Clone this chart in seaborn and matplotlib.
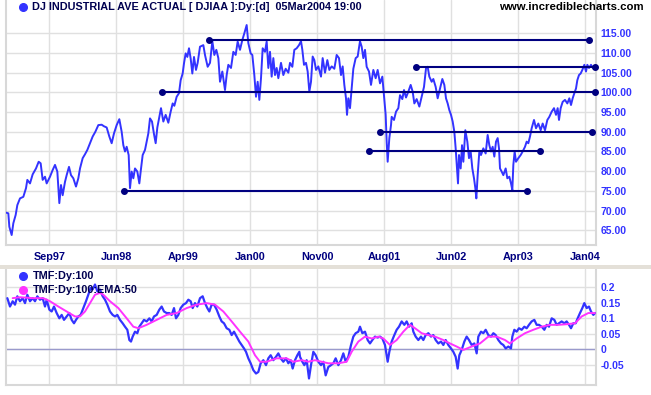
import matplotlib
matplotlib.use("Agg")
import matplotlib.pyplot as plt
from matplotlib.lines import Line2D
from matplotlib.patches import Rectangle
import seaborn as sns
import pandas as pd

# ---------------- data (x = trading session since start of chart) ----------------
price_session = [
    0, 7, 10, 17, 22, 29, 34, 42, 52, 60,
    64, 72, 80, 90, 98, 104, 110, 117, 122, 132,
    140, 147, 154, 160, 165, 170, 177, 182, 189, 195,
    202, 210, 217, 222, 230, 237, 244, 252, 260, 268,
    277, 287, 294, 302, 310, 317, 324, 332, 340, 347,
    352, 357, 362, 368, 372, 377, 382, 387, 394, 400,
    404, 410, 417, 422, 427, 432, 438, 444, 449, 454,
    460, 465, 472, 479, 487, 494, 500, 505, 512, 519,
    524, 530, 534, 539, 544, 549, 554, 559, 564, 570,
    575, 580,
    582, 592, 597, 605, 612, 619, 625, 631, 637, 642,
    649, 657, 662, 667, 675, 682, 689, 695, 702, 709,
    715, 722, 727, 734, 739, 745, 750, 755, 760, 765,
    770, 777, 782, 787, 792, 797, 802, 807, 812, 817,
    825, 832, 839, 847, 852, 859, 865, 872, 879, 885,
    889, 894, 900, 905, 910, 915, 920, 925, 930, 937,
    945, 950, 957, 964, 970, 977, 985, 992, 999, 1005,
    1010, 1015, 1020, 1023, 1027, 1032, 1037, 1042, 1049, 1055,
    1062, 1067, 1072, 1077, 1082, 1089, 1095, 1102, 1109, 1115,
    1122, 1129, 1134, 1139, 1142, 1145, 1150, 1155,
    1157, 1164, 1170, 1177, 1182, 1189, 1194, 1200, 1207, 1214,
    1220, 1225, 1232, 1240, 1247, 1254, 1260, 1265, 1270, 1277,
    1282, 1289, 1295, 1302, 1309, 1315, 1320, 1325, 1330, 1335,
    1340, 1345, 1349, 1353, 1356, 1359, 1364, 1368, 1372, 1378,
    1384, 1389, 1394, 1399, 1404, 1408, 1411, 1415, 1420, 1425,
    1432, 1439, 1445, 1450, 1455, 1460, 1465, 1470, 1475, 1479,
    1482, 1487, 1492, 1499, 1504, 1510, 1515, 1519, 1522, 1526,
    1530, 1537, 1544, 1550, 1557, 1562, 1567, 1572, 1577, 1584,
    1590, 1597, 1604, 1610, 1617, 1624, 1630, 1637, 1644, 1650,
    1655, 1659, 1664, 1670, 1677, 1684, 1690, 1695, 1700, 1705,
    1710, 1714, 1719, 1724, 1729, 1735, 1740, 1744, 1749, 1755,
    1760, 1766,
]
price_value = [
    69.5, 69.3, 65.9, 63.8, 66.8, 68.9, 71.4, 73.1, 73.5, 75.7,
    77.8, 76.9, 79.2, 80.7, 82.4, 82.0, 77.8, 78.6, 76.9, 78.6,
    80.3, 81.6, 79.9, 71.9, 76.5, 73.9, 77.3, 79.0, 81.1, 79.0,
    78.2, 76.1, 78.2, 80.7, 83.3, 84.3, 85.4, 87.1, 88.8, 90.0,
    91.7, 91.8, 91.4, 91.1, 88.8, 87.1, 89.6, 91.7, 93.2, 90.0,
    86.6, 85.0, 86.2, 84.1, 75.7, 79.9, 78.2, 80.7, 79.9, 76.9,
    79.9, 84.1, 85.4, 87.5, 89.6, 93.4, 92.6, 89.4, 87.1, 91.1,
    93.8, 96.0, 92.6, 94.3, 92.3, 95.1, 97.2, 96.6, 98.9, 99.8,
    103.1, 104.8, 107.4, 109.9, 109.0, 111.2, 108.6, 104.8, 109.0, 105.7,
    107.5, 110.5,
    111.6, 112.0, 109.5, 106.5, 107.5, 113.0, 109.5, 110.8, 108.7, 102.7,
    105.3, 100.6, 104.4, 107.0, 106.2, 110.3, 109.5, 112.9, 110.8, 113.3,
    115.0, 117.1, 112.5, 109.9, 109.5, 104.4, 98.9, 102.7, 98.1, 103.6,
    111.2, 110.3, 112.9, 106.2, 110.3, 104.0, 108.7, 104.4, 106.2, 103.6,
    107.5, 104.4, 106.0, 105.0, 107.5, 106.5, 110.8, 111.2, 112.0, 113.0,
    110.8, 107.0, 107.5, 105.3, 100.2, 102.7, 109.1, 108.2, 105.7, 106.6,
    104.0, 108.7, 105.0, 108.2, 105.7, 106.6, 106.0, 109.5, 108.7, 104.4,
    106.6, 101.9, 98.5, 94.3, 98.5, 96.0, 101.0, 106.0, 108.7, 109.1,
    113.0, 111.6, 108.7, 110.8, 106.5, 105.3, 101.9, 105.7, 103.6, 105.7,
    102.3, 104.0, 99.3, 94.3, 87.5, 82.4, 88.4, 91.7,
    93.8, 93.0, 95.1, 96.0, 99.3, 98.3, 100.6, 98.7, 100.2, 101.9,
    100.2, 97.2, 98.3, 96.4, 98.9, 101.4, 106.1, 106.5, 104.0, 102.7,
    103.4, 101.4, 98.5, 100.9, 103.4, 101.9, 98.5, 97.2, 95.5, 94.3,
    92.6, 90.0, 85.8, 80.7, 76.9, 84.1, 80.7, 86.6, 82.4, 90.4,
    87.5, 83.3, 85.0, 80.7, 78.2, 75.7, 73.1, 79.0, 85.0, 84.1,
    85.8, 84.5, 89.2, 86.6, 85.0, 86.2, 83.7, 87.5, 88.4, 85.8,
    80.7, 79.9, 79.0, 80.7, 78.2, 78.6, 76.9, 75.2, 81.6, 85.0,
    82.4, 83.3, 84.1, 85.0, 86.2, 87.5, 87.1, 88.8, 90.9, 93.0,
    90.9, 92.1, 90.4, 92.1, 90.4, 93.0, 93.8, 95.1, 96.0, 94.3,
    96.0, 93.0, 96.0, 97.6, 98.1, 97.2, 98.5, 96.8, 98.5, 99.8,
    101.0, 103.1, 104.4, 104.8, 105.7, 107.0, 105.3, 107.0, 106.2, 107.0,
    106.3, 106.5,
]

tmf_session = [
    4, 12, 20, 27, 34, 42, 50, 57, 64, 72,
    80, 87, 94, 102, 110, 117, 122, 130, 137, 144,
    152, 160, 167, 174, 182, 190, 197, 204, 210, 217,
    224, 232, 240, 247, 254, 260, 267, 274, 282, 290,
    297, 304, 312, 320, 327, 334, 342, 350, 357, 364,
    370, 375, 380, 387, 394, 400, 407, 414, 422, 430,
    437, 444, 452, 460, 467, 474, 482, 490, 497, 504,
    510, 517, 524, 532, 540, 547, 554, 560, 567, 574,
    582, 590, 597, 604, 610, 617, 624, 632, 640, 647,
    654, 662, 670, 677, 684, 692, 700, 707, 714, 720,
    727, 734, 742, 750, 757, 764, 772, 780, 787, 794,
    802, 810, 817, 824, 832, 840, 847, 854, 860, 867,
    874, 880,
    882, 889, 895, 902, 909, 915, 922, 929, 937, 945,
    952, 959, 967, 975, 982, 989, 997, 1005, 1012, 1019,
    1027, 1035, 1042, 1049, 1057, 1062, 1069, 1077, 1085, 1092,
    1099, 1107, 1115, 1122, 1129, 1137, 1142, 1145, 1150, 1157,
    1165, 1172, 1179, 1187, 1195, 1202, 1209, 1217, 1222, 1229,
    1237, 1245, 1252, 1259, 1267, 1275, 1282, 1289, 1297, 1305,
    1312, 1319, 1327, 1335, 1342, 1349, 1355, 1360, 1367, 1375,
    1382, 1389, 1397, 1405, 1412, 1417, 1425, 1432, 1439, 1447,
    1455, 1462, 1469, 1477, 1485, 1492, 1499, 1507, 1515, 1519,
    1525, 1532, 1539, 1547, 1555, 1562, 1569, 1577, 1585, 1592,
    1599, 1607, 1615, 1622, 1629, 1637, 1645, 1652, 1659, 1667,
    1675, 1682, 1689, 1695, 1702, 1709, 1715, 1722, 1729, 1735,
    1742, 1749, 1755, 1762, 1767,
]
tmf_value = [
    0.165, 0.138, 0.155, 0.144, 0.171, 0.155, 0.165, 0.149, 0.176, 0.155,
    0.165, 0.155, 0.171, 0.160, 0.165, 0.138, 0.160, 0.128, 0.122, 0.138,
    0.117, 0.100, 0.111, 0.095, 0.106, 0.117, 0.095, 0.084, 0.095, 0.106,
    0.111, 0.133, 0.155, 0.176, 0.198, 0.193, 0.209, 0.187, 0.193, 0.171,
    0.160, 0.144, 0.122, 0.111, 0.106, 0.111, 0.095, 0.084, 0.073, 0.063,
    0.030, 0.025, 0.041, 0.057, 0.052, 0.073, 0.084, 0.095, 0.090, 0.100,
    0.090, 0.106, 0.111, 0.128, 0.138, 0.122, 0.117, 0.117, 0.111, 0.133,
    0.100, 0.111, 0.133, 0.144, 0.149, 0.160, 0.155, 0.133, 0.149, 0.138,
    0.165, 0.171, 0.149, 0.133, 0.122, 0.144, 0.144, 0.128, 0.106, 0.090,
    0.084, 0.068, 0.063, 0.046, 0.057, 0.041, 0.025, 0.014, 0.003, -0.008,
    -0.029, -0.045, -0.067, -0.078, -0.073, -0.045, -0.035, -0.051, -0.029, -0.019,
    -0.035, -0.024, -0.013, -0.029, -0.040, -0.029, -0.045, -0.035, -0.062, -0.035,
    -0.019, -0.008,
    -0.024, -0.040, -0.051, -0.035, -0.094, -0.051, -0.008, -0.019, -0.040, -0.051,
    -0.040, -0.084, -0.057, -0.051, -0.045, -0.029, -0.051, -0.035, -0.013, -0.040,
    -0.024, 0.014, 0.041, 0.052, 0.057, 0.073, 0.052, 0.057, 0.030, 0.019,
    0.030, 0.041, 0.038, 0.041, 0.035, 0.014, -0.019, -0.040, -0.008, 0.025,
    0.046, 0.063, 0.073, 0.090, 0.079, 0.090, 0.073, 0.084, 0.057, 0.041,
    0.030, 0.041, 0.030, 0.046, 0.052, 0.041, 0.046, 0.030, 0.019, 0.025,
    0.014, 0.030, 0.014, 0.003, -0.008, -0.024, -0.062, -0.019, -0.002, 0.025,
    0.041, 0.030, 0.014, 0.019, -0.013, 0.041, 0.057, 0.052, 0.063, 0.046,
    0.041, 0.052, 0.046, 0.030, 0.019, 0.014, 0.003, 0.009, 0.003, 0.041,
    0.063, 0.057, 0.068, 0.063, 0.073, 0.068, 0.079, 0.090, 0.095, 0.079,
    0.079, 0.073, 0.063, 0.079, 0.073, 0.100, 0.095, 0.079, 0.084, 0.090,
    0.084, 0.090, 0.079, 0.068, 0.084, 0.084, 0.100, 0.117, 0.133, 0.149,
    0.133, 0.138, 0.122, 0.111, 0.117,
]

ema_session = [
    20, 42, 82, 112, 132, 157, 182, 207, 222, 237,
    252, 267, 282, 292, 312, 337, 362, 382, 397, 422,
    452, 482, 512, 542, 572, 602, 627, 652, 677, 702,
    727, 747, 762, 782, 812, 842, 862, 887, 907, 927,
    947, 967, 997, 1022, 1037, 1057, 1077, 1097, 1117, 1132,
    1152, 1172, 1192, 1212, 1227, 1247, 1267, 1287, 1312, 1332,
    1352, 1372, 1397, 1422, 1447, 1472, 1497, 1512, 1532, 1557,
    1582, 1607, 1632, 1657, 1682, 1707, 1727, 1747, 1767,
]
ema_value = [
    0.165, 0.168, 0.165, 0.165, 0.155, 0.138, 0.122, 0.106, 0.106, 0.122,
    0.149, 0.176, 0.182, 0.176, 0.155, 0.133, 0.100, 0.073, 0.068, 0.079,
    0.095, 0.111, 0.117, 0.133, 0.144, 0.149, 0.144, 0.122, 0.090, 0.057,
    0.025, -0.019, -0.040, -0.040, -0.029, -0.029, -0.040, -0.035, -0.040, -0.035,
    -0.040, -0.045, -0.045, -0.040, -0.008, 0.025, 0.041, 0.035, 0.041, 0.035,
    0.014, 0.030, 0.057, 0.079, 0.068, 0.052, 0.046, 0.041, 0.030, 0.019,
    0.009, -0.002, 0.009, 0.019, 0.041, 0.041, 0.030, 0.019, 0.035, 0.052,
    0.063, 0.073, 0.079, 0.079, 0.081, 0.084, 0.106, 0.117, 0.117,
]

level_value = [113.4, 106.4, 100.0, 90.0, 85.0, 75.0]
level_start = [609, 1229, 469, 1123, 1089, 355]
level_end = [1750, 1768, 1768, 1759, 1603, 1564]

tick_session = [130, 331, 532, 733, 934, 1135, 1336, 1537, 1738]
tick_labels = ["Sep97", "Jun98", "Apr99", "Jan00", "Nov00", "Aug01", "Jun02", "Apr03", "Jan04"]
price_ticks = [65, 70, 75, 80, 85, 90, 95, 100, 105, 110, 115]
tmf_ticks = [-0.05, 0, 0.05, 0.1, 0.15, 0.2]
tmf_tick_labels = ["-0.05", "0", "0.05", "0.1", "0.15", "0.2"]

title_text = "DJ INDUSTRIAL AVE ACTUAL [ DJIAA ]:Dy:[d]  05Mar2004 19:00"
site_text = "www.incrediblecharts.com"
legend_labels = ["TMF:Dy:100", "TMF:Dy:100:EMA:50"]

# ---------------- style ----------------
BLUE = "#3333FF"
MAGENTA = "#FF33FF"
NAVY = "#000080"
GRID = "#E0E0E0"

sns.set_theme(style="white")
plt.rcParams["font.family"] = ["Liberation Sans", "DejaVu Sans"]

W, H = 651, 395
fig = plt.figure(figsize=(W / 100, H / 100), dpi=100)
fig.patch.set_facecolor("white")

ax1 = fig.add_axes([6 / W, 1 - 245 / H, 590 / W, 245 / H])
ax2 = fig.add_axes([6 / W, 1 - 385 / H, 590 / W, 116 / H])

# separator band between panels
fig.patches.append(Rectangle((0, 1 - 269 / H), 1, 4 / H, transform=fig.transFigure,
                             facecolor="#E4E0D8", edgecolor="none", zorder=0))

# ---------------- top panel ----------------
price_df = pd.DataFrame({"session": price_session, "value": price_value})
sns.lineplot(data=price_df, x="session", y="value", ax=ax1, color=BLUE,
             linewidth=1.4, estimator=None, sort=False, zorder=3)

for v, s0, s1 in zip(level_value, level_start, level_end):
    ax1.plot([s0, s1], [v, v], color=NAVY, linewidth=1.5, zorder=4, solid_capstyle="butt")
    ax1.plot([s0, s1], [v, v], linestyle="none", marker="o", markersize=4.0,
             color=NAVY, zorder=5, clip_on=False)

ax1.set_xlim(0, 1770)
ax1.set_ylim(61.27, 123.45)
ax1.set_xticks(tick_session)
ax1.set_xticklabels(tick_labels)
ax1.set_yticks(price_ticks)
ax1.set_yticklabels([f"{t:.2f}" for t in price_ticks])

# ---------------- bottom panel ----------------
tmf_df = pd.DataFrame({"session": tmf_session, "value": tmf_value})
ema_df = pd.DataFrame({"session": ema_session, "value": ema_value})
ax2.axhline(0, color="#9A9ACC", linewidth=1.0, zorder=2)
sns.lineplot(data=tmf_df, x="session", y="value", ax=ax2, color=BLUE,
             linewidth=1.6, estimator=None, sort=False, zorder=3)
sns.lineplot(data=ema_df, x="session", y="value", ax=ax2, color=MAGENTA,
             linewidth=1.4, estimator=None, sort=False, zorder=4)

ax2.set_xlim(0, 1770)
ax2.set_ylim(-0.115, 0.259)
ax2.set_xticks(tick_session)
ax2.set_xticklabels([])
ax2.set_yticks(tmf_ticks)
ax2.set_yticklabels(tmf_tick_labels)

for ax in (ax1, ax2):
    ax.set_xlabel("")
    ax.set_ylabel("")
    ax.set_facecolor("white")
    ax.grid(True, color=GRID, linewidth=1.0)
    ax.set_axisbelow(True)
    ax.yaxis.tick_right()
    for side in ("left", "right", "bottom"):
        ax.spines[side].set_color("#D8D8D8")
        ax.spines[side].set_linewidth(1.5)
    ax.spines["top"].set_visible(False)
    ax.tick_params(axis="both", length=0)
    ax.tick_params(axis="y", pad=3.5, labelsize=7.5, labelcolor=BLUE)
    ax.tick_params(axis="x", pad=5, labelsize=7.8, labelcolor=NAVY)
    for lab in ax.get_yticklabels() + ax.get_xticklabels():
        lab.set_fontweight("bold")

# ---------------- texts ----------------
fig.add_artist(Line2D([23 / W], [1 - 7 / H], marker="o", markersize=5.5, color=BLUE,
                      linestyle="none", transform=fig.transFigure))
fig.text(32 / W, 1 - 7.5 / H, title_text, ha="left", va="center", fontsize=7.8,
         fontweight="bold", color="#000050")
fig.text(644 / W, 1 - 7.5 / H, site_text, ha="right", va="center", fontsize=8.2,
         fontweight="bold", color="black")

for i, (lab, col) in enumerate(zip(legend_labels, [BLUE, MAGENTA])):
    yy = 276 + 14 * i
    fig.add_artist(Line2D([23 / W], [1 - yy / H], marker="o", markersize=5.5, color=col,
                          linestyle="none", transform=fig.transFigure, zorder=10))
    fig.text(33 / W, 1 - yy / H, lab, ha="left", va="center", fontsize=7.8,
             fontweight="bold", color="#000050", zorder=10)

fig.savefig("out.png", dpi=100)
